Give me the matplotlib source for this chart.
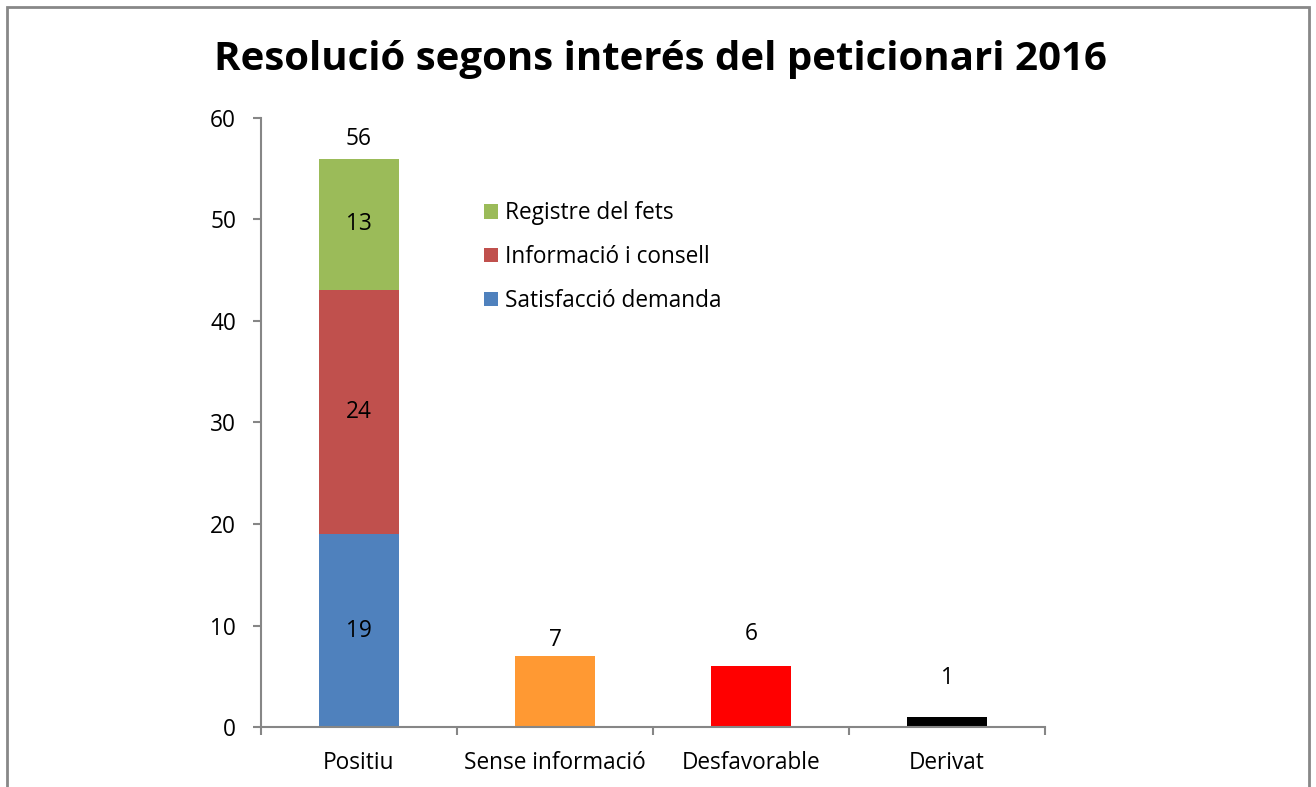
import matplotlib.pyplot as plt
from matplotlib.patches import Rectangle

# data
categories = ["Positiu", "Sense informació", "Desfavorable", "Derivat"]
satisfaccio = [19, 0, 0, 0]
informacio = [24, 0, 0, 0]
registre = [13, 0, 0, 0]
altres = [0, 7, 6, 1]
altres_colors = ["#FFFFFF", "#FF9933", "#FF0000", "#000000"]
title = "Resolució segons interés del peticionari 2016"
yticks = [0, 10, 20, 30, 40, 50, 60]

plt.rcParams["font.family"] = ["Open Sans", "DejaVu Sans"]
FS = 16.3

fig = plt.figure(figsize=(13.16, 7.87), dpi=100)
ax = fig.add_axes([0.1983, 0.0762, 0.5958, 0.774])

x = list(range(len(categories)))
w = 0.41

b1 = ax.bar(x, satisfaccio, w, color="#4F81BD", label="Satisfacció demanda")
bottom2 = satisfaccio
b2 = ax.bar(x, informacio, w, bottom=bottom2, color="#C0504D", label="Informació i consell")
bottom3 = [a + b for a, b in zip(satisfaccio, informacio)]
b3 = ax.bar(x, registre, w, bottom=bottom3, color="#9BBB59", label="Registre del fets")
ax.bar(x, altres, w, color=altres_colors)

# segment labels in the stacked bar
for vals, bots in [(satisfaccio, [0] * 4), (informacio, bottom2), (registre, bottom3)]:
    for i, (v, b) in enumerate(zip(vals, bots)):
        if v:
            ax.text(i, b + v / 2, str(v), ha="center", va="center", fontsize=FS)

# totals above bars (label gaps as in the original, in points)
totals = [s + i + r + a for s, i, r, a in zip(satisfaccio, informacio, registre, altres)]
offsets = [5.5, 2.5, 14.5, 19]
for i, t in enumerate(totals):
    ax.annotate(str(t), (i, t), xytext=(0, offsets[i]), textcoords="offset points",
                ha="center", va="bottom", fontsize=FS)

ax.set_xlim(-0.5, 3.5)
ax.set_ylim(0, 60)
ax.set_yticks(yticks)
ax.set_xticks(x)
ax.set_xticklabels(categories, fontsize=FS)
ax.set_xticks([-0.5, 0.5, 1.5, 2.5, 3.5], minor=True)
ax.tick_params(axis="x", which="major", length=0, pad=17.5)
ax.tick_params(axis="x", which="minor", length=6, color="#868686", width=1.5)
ax.tick_params(axis="y", length=6, color="#868686", width=1.5, labelsize=FS, pad=12)
for s in ["top", "right"]:
    ax.spines[s].set_visible(False)
for s in ["left", "bottom"]:
    ax.spines[s].set_color("#868686")
    ax.spines[s].set_linewidth(1.5)

leg = ax.legend(handles=[b3, b2, b1], loc="upper left", bbox_to_anchor=(0.259, 0.8965),
                frameon=False, fontsize=FS, handlelength=0.6, handleheight=0.6,
                handletextpad=0.3, labelspacing=0.87)

fig.text(0.502, 0.925, title, ha="center", va="center", fontsize=29, fontweight="bold")

# outer border
fig.patches.append(Rectangle((0.0055, -0.01), 0.989, 1.0012, transform=fig.transFigure,
                             fill=False, edgecolor="#888888", linewidth=2))

fig.savefig("out.png", dpi=100)
